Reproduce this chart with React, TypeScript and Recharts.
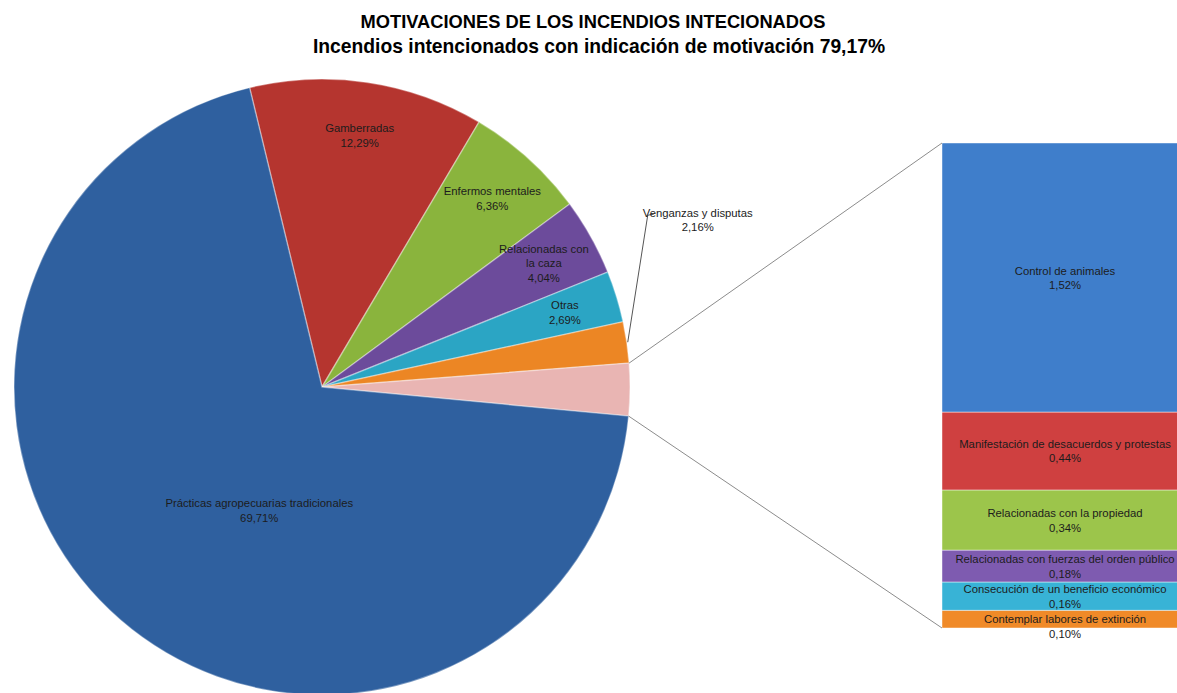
import { PieChart, Pie, Cell, BarChart, Bar, XAxis, YAxis } from "recharts";

const TITLE = "MOTIVACIONES DE LOS INCENDIOS INTECIONADOS";
const SUBTITLE = "Incendios intencionados con indicación de motivación 79,17%";

// main pie, clockwise from the top edge of the big blue slice
const PIE_NAMES = [
  "Gamberradas",
  "Enfermos mentales",
  "Relacionadas con la caza",
  "Otras",
  "Venganzas y disputas",
  "Resto de motivaciones",
  "Prácticas agropecuarias tradicionales",
];
const PIE_VALUES = [12.29, 6.36, 4.04, 2.69, 2.16, 2.74, 69.71];

// breakdown of the small pink slice (top to bottom of the bar)
const BAR_NAMES = [
  "Control de animales",
  "Manifestación de desacuerdos y protestas",
  "Relacionadas con la propiedad",
  "Relacionadas con fuerzas del orden público",
  "Consecución de un beneficio económico",
  "Contemplar labores de extinción",
];
const BAR_VALUES = [1.52, 0.44, 0.34, 0.18, 0.16, 0.1];

const PIE_COLORS = ["#b5352f", "#8ab43d", "#6c4b9b", "#2ba5c4", "#ec8624", "#e9b5b3", "#2f609f"];
const BAR_COLORS = ["#3f7ecb", "#cf4040", "#9cc54b", "#7e5bb0", "#38b3d6", "#f08a28"];

const W = 1177;
const H = 693;
const FONT = "'Liberation Sans', Arial, sans-serif";
const TEXT = "#1c1c1c";
const LABEL_SIZE = 11.3;

const PIE_CX = 322;
const PIE_CY = 387;
const PIE_R = 308;
const START = 103.6;

const BAR_LEFT = 942;
const BAR_TOP = 143;
const BAR_W = 246;
const BAR_H = 485;

const RAD = Math.PI / 180;
const fmt = (v: number) => v.toFixed(2).replace(".", ",") + "%";
const polar = (cx: number, cy: number, r: number, a: number) => ({
  x: cx + r * Math.cos(-a * RAD),
  y: cy + r * Math.sin(-a * RAD),
});

const WRAP: Record<string, string[]> = {
  "Relacionadas con la caza": ["Relacionadas con", "la caza"],
};

const pieData = PIE_NAMES.map((name, i) => ({ name, value: PIE_VALUES[i] }));

const barRow: Record<string, string | number> = { cat: "Resto" };
BAR_VALUES.forEach((v, i) => {
  barRow[`k${i}`] = v;
});
const barData = [barRow];

const renderPieLabel = (props: any) => {
  const { cx, cy, midAngle, outerRadius, index, startAngle, endAngle } = props;
  const name = PIE_NAMES[index];
  const value = PIE_VALUES[index];

  // pink slice: lines to the bar instead of a label
  if (index === 5) {
    const a = polar(cx, cy, outerRadius, startAngle);
    const b = polar(cx, cy, outerRadius, endAngle);
    return (
      <g key="connectors">
        <line x1={a.x} y1={a.y} x2={BAR_LEFT} y2={BAR_TOP} stroke="#8c8c8c" strokeWidth={1} />
        <line x1={b.x} y1={b.y} x2={BAR_LEFT} y2={BAR_TOP + BAR_H} stroke="#8c8c8c" strokeWidth={1} />
      </g>
    );
  }

  // small slice with an outside label and a leader line
  if (index === 4) {
    const s = polar(cx, cy, outerRadius + 1, midAngle);
    const ex = s.x + 20;
    const ey = s.y - 127;
    return (
      <g key="outside">
        <polyline
          points={`${s.x},${s.y} ${ex},${ey} ${ex + 6},${ey - 1}`}
          fill="none"
          stroke="#555"
          strokeWidth={1}
        />
        <text x={ex + 50} y={ey + 2} textAnchor="middle" fontSize={LABEL_SIZE} fill={TEXT} fontFamily={FONT}>
          {name}
        </text>
        <text x={ex + 50} y={ey + 16} textAnchor="middle" fontSize={LABEL_SIZE} fill={TEXT} fontFamily={FONT}>
          {fmt(value)}
        </text>
      </g>
    );
  }

  const big = index === 6;
  const p = polar(cx, cy, big ? outerRadius * 0.45 : outerRadius * 0.825, big ? midAngle + 14 : midAngle);
  const lines = [...(WRAP[name] || [name]), fmt(value)];
  const lh = 14.5;
  const y0 = p.y - ((lines.length - 1) * lh) / 2 + 4;
  return (
    <text key={`lbl-${index}`} textAnchor="middle" fontSize={LABEL_SIZE} fill={TEXT} fontFamily={FONT}>
      {lines.map((t, i) => (
        <tspan key={i} x={p.x} y={y0 + i * lh}>
          {t}
        </tspan>
      ))}
    </text>
  );
};

const makeBarLabel = (i: number) => (props: any) => {
  const { x, y, width, height } = props;
  const cx = x + width / 2;
  const cy = y + height / 2 + (i === 5 ? 7 : 0);
  return (
    <g key={`bl-${i}`}>
      <text x={cx} y={cy - 3} textAnchor="middle" fontSize={LABEL_SIZE} fill={TEXT} fontFamily={FONT}>
        {BAR_NAMES[i]}
      </text>
      <text x={cx} y={cy + 11.5} textAnchor="middle" fontSize={LABEL_SIZE} fill={TEXT} fontFamily={FONT}>
        {fmt(BAR_VALUES[i])}
      </text>
    </g>
  );
};

// bottom segment first for the stack
const barOrder = BAR_VALUES.map((_, i) => i).reverse();

export default function App() {
  return (
    <div
      style={{
        position: "absolute",
        left: 0,
        top: 0,
        width: W,
        height: H,
        overflow: "hidden",
        background: "#fff",
        fontFamily: FONT,
      }}
    >
      <div
        style={{
          position: "absolute",
          left: 0,
          top: 9,
          width: W,
          fontWeight: "bold",
          lineHeight: "25px",
          color: "#000",
        }}
      >
        <div style={{ position: "absolute", left: 293, top: 0, width: 600, textAlign: "center", fontSize: 18.3 }}>
          {TITLE}
        </div>
        <div style={{ position: "absolute", left: 299, top: 25, width: 600, textAlign: "center", fontSize: 19.3 }}>
          {SUBTITLE}
        </div>
      </div>

      <div style={{ position: "absolute", left: 0, top: 0 }}>
        <PieChart width={W} height={H} margin={{ top: 0, right: 0, bottom: 0, left: 0 }}>
          <Pie
            data={pieData}
            dataKey="value"
            nameKey="name"
            cx={PIE_CX}
            cy={PIE_CY}
            innerRadius={0}
            outerRadius={PIE_R}
            startAngle={START}
            endAngle={START - 360}
            stroke="rgba(255,255,255,0.35)"
            strokeWidth={1.5}
            label={renderPieLabel}
            labelLine={false}
            isAnimationActive={false}
          >
            {pieData.map((_, i) => (
              <Cell key={`c-${i}`} fill={PIE_COLORS[i]} />
            ))}
          </Pie>
        </PieChart>
      </div>

      <div style={{ position: "absolute", left: BAR_LEFT, top: BAR_TOP }}>
        <BarChart
          width={BAR_W}
          height={BAR_H + 20}
          data={barData}
          margin={{ top: 0, right: 0, bottom: 20, left: 0 }}
          barCategoryGap={0}
          barGap={0}
        >
          <XAxis dataKey="cat" type="category" hide />
          <YAxis type="number" domain={[0, "dataMax"]} hide />
          {barOrder.map((i) => (
            <Bar
              key={`b-${i}`}
              dataKey={`k${i}`}
              stackId="s"
              fill={BAR_COLORS[i]}
              stroke="rgba(255,255,255,0.45)"
              strokeWidth={1}
              label={makeBarLabel(i)}
              isAnimationActive={false}
            />
          ))}
        </BarChart>
      </div>
    </div>
  );
}
